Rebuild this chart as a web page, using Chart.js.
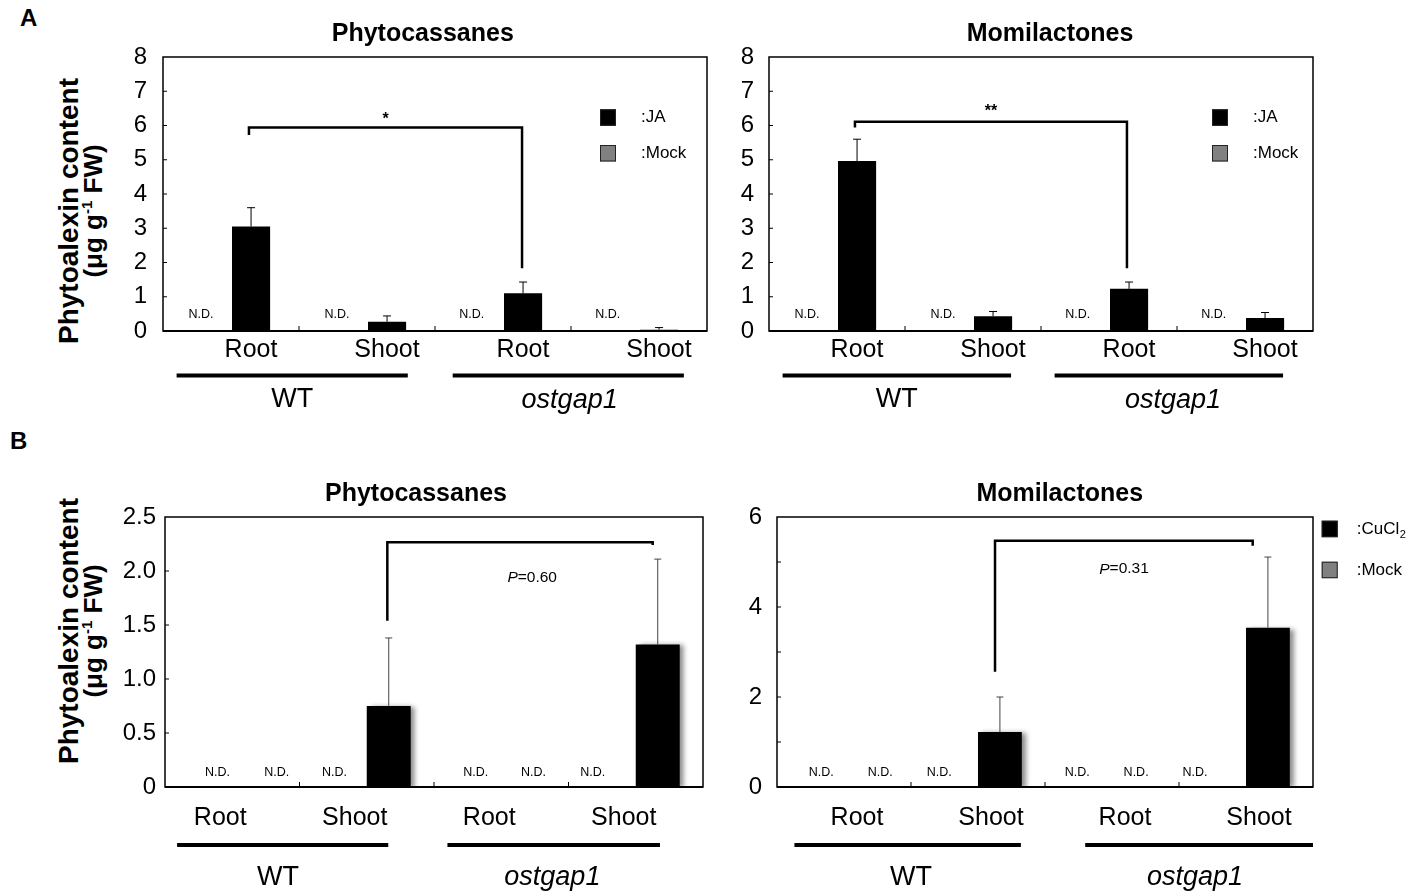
<!DOCTYPE html>
<html>
<head>
<meta charset="utf-8">
<script src="https://cdn.jsdelivr.net/npm/chart.js@4.4.1/dist/chart.umd.min.js"></script>
<style>
body { margin: 0; background: #fff; }
#fig { position: relative; width: 1409px; height: 895px; font-family: 'Liberation Sans', Arial, sans-serif; color: #000; overflow: hidden; }
#fig canvas { position: absolute; }
.letter { position: absolute; font-weight: bold; font-size: 24px; line-height: 24px; }
.ytitle { position: absolute; width: 320px; left: -79px; height: 48px; text-align: center; font-weight: bold; line-height: 24px; transform: rotate(-90deg); white-space: nowrap; }
.ytitle .l1 { font-size: 28px; }
.ytitle .l2 { font-size: 26px; }
.ytitle sup { font-size: 15px; vertical-align: 10px; line-height: 0; }
</style>
</head>
<body>
<div id="fig">
  <div class="letter" style="left:20px; top:6px;">A</div>
  <div class="letter" style="left:10px; top:429px;">B</div>
  <div class="ytitle" style="top:187px;"><div class="l1">Phytoalexin content</div><div class="l2">(μg g<sup>-1</sup> FW)</div></div>
  <div class="ytitle" style="top:607px;"><div class="l1">Phytoalexin content</div><div class="l2">(μg g<sup>-1</sup> FW)</div></div>
  <canvas id="a1" width="620" height="420" style="left:90px; top:0px;"></canvas>
  <canvas id="a2" width="620" height="420" style="left:712px; top:0px;"></canvas>
  <canvas id="b1" width="620" height="455" style="left:90px; top:440px;"></canvas>
  <canvas id="b2" width="697" height="455" style="left:712px; top:440px;"></canvas>
</div>
<script>
// categories
const groups = ['Root', 'Shoot', 'Root', 'Shoot'];

// A: JA treatment, mock not detected (N.D.)
const mockND = [null, null, null, null];
const phytoJA = [3.05, 0.27, 1.10, 0.04];
const phytoJASD = [0.55, 0.17, 0.33, 0.06];
const momiJA = [4.96, 0.43, 1.23, 0.38];
const momiJASD = [0.64, 0.14, 0.20, 0.16];

// B: CuCl2 treatment
const phytoCu = [null, 0.75, null, 1.32];
const phytoCuSD = [null, 0.63, null, 0.79];
const momiCu = [null, 1.22, null, 3.54];
const momiCuSD = [null, 0.78, null, 1.57];

// y ticks
const yTicksA = [0, 1, 2, 3, 4, 5, 6, 7, 8];
const yLabelsA = ['0', '1', '2', '3', '4', '5', '6', '7', '8'];
const yTicksB1 = [0, 0.5, 1.0, 1.5, 2.0, 2.5];
const yLabelsB1 = ['0', '0.5', '1.0', '1.5', '2.0', '2.5'];
const yTicksB2 = [0, 1, 2, 3, 4, 5, 6];
const yLabelsB2 = ['0', '', '2', '', '4', '', '6'];

const FONT = "'Liberation Sans', Arial, sans-serif";

// 标注：误差线、N.D.、括号、图例、分组下划线
const figPlugin = {
    id: 'fig',
    beforeDatasetsDraw(chart, args, o) {
        const ctx = chart.ctx;
        ctx.save();
        if (o.shadow) {
            ctx.shadowColor = 'rgba(0,0,0,0.45)';
            ctx.shadowBlur = 5;
            ctx.shadowOffsetX = 4;
            ctx.shadowOffsetY = 1;
        }
    },
    afterDatasetsDraw(chart, args, o) {
        const ctx = chart.ctx;
        ctx.restore();
        const { left, right, top, bottom } = chart.chartArea;
        const xs = chart.scales.x, ys = chart.scales.y;
        const X = v => xs.getPixelForValue(v);
        const Y = v => ys.getPixelForValue(v);
        ctx.save();
        ctx.fillStyle = '#000';
        ctx.strokeStyle = '#000';

        // error bars (upper only)
        chart.data.datasets.forEach((ds, di) => {
            if (!ds.sd) return;
            chart.getDatasetMeta(di).data.forEach((bar, i) => {
                const v = ds.data[i], sd = ds.sd[i];
                if (v == null || sd == null) return;
                const y0 = Y(v), y1 = Y(v + sd);
                ctx.strokeStyle = o.errColor;
                ctx.lineWidth = 1;
                ctx.beginPath();
                ctx.moveTo(bar.x, y0);
                ctx.lineTo(bar.x, y1);
                ctx.moveTo(bar.x - o.cap, y1);
                ctx.lineTo(bar.x + o.cap, y1);
                ctx.stroke();
            });
        });

        // frame
        ctx.strokeStyle = '#000';
        ctx.lineWidth = 1.5;
        ctx.strokeRect(left, top, right - left, bottom - top);
        ctx.lineWidth = 2;
        ctx.beginPath();
        ctx.moveTo(left, bottom);
        ctx.lineTo(right, bottom);
        ctx.stroke();

        // inward ticks
        ctx.lineWidth = 1;
        ctx.beginPath();
        ys.ticks.forEach(t => {
            const p = Y(t.value);
            if (p > top + 1 && p < bottom - 1) {
                ctx.moveTo(left, p);
                ctx.lineTo(left + 4, p);
            }
        });
        for (let i = 0; i < groups.length - 1; i++) {
            const p = (X(i) + X(i + 1)) / 2;
            ctx.moveTo(p, bottom);
            ctx.lineTo(p, bottom - 5);
        }
        ctx.stroke();

        // N.D.
        ctx.font = '12.5px ' + FONT;
        ctx.textAlign = 'center';
        ctx.textBaseline = 'middle';
        o.nd.forEach(pos => ctx.fillText('N.D.', X(pos), bottom - o.ndLift));

        // title
        ctx.font = 'bold 25px ' + FONT;
        ctx.fillText(o.title, X(o.titleAt), top - o.titleLift);

        // significance bracket
        const b = o.bracket;
        const x1 = X(b.x1), x2 = X(b.x2), yT = Y(b.top);
        ctx.lineWidth = 2.5;
        ctx.beginPath();
        ctx.moveTo(x1, Y(b.leftEnd));
        ctx.lineTo(x1, yT);
        ctx.lineTo(x2, yT);
        ctx.lineTo(x2, Y(b.rightEnd));
        ctx.stroke();
        if (b.p) {
            ctx.font = 'italic 15.5px ' + FONT;
            const w1 = ctx.measureText('P').width;
            ctx.font = '15.5px ' + FONT;
            const w2 = ctx.measureText('=' + b.p).width;
            const sx = X(b.textAt) - (w1 + w2) / 2;
            ctx.textAlign = 'left';
            ctx.font = 'italic 15.5px ' + FONT;
            ctx.fillText('P', sx, Y(b.textY));
            ctx.font = '15.5px ' + FONT;
            ctx.fillText('=' + b.p, sx + w1, Y(b.textY));
        } else {
            ctx.font = 'bold 16px ' + FONT;
            ctx.textAlign = 'center';
            ctx.fillText(b.text, (x1 + x2) / 2, Y(b.textY) + 3);
        }

        // legend
        const lg = o.legend;
        lg.items.forEach((it, k) => {
            const sy = top + lg.y + k * lg.gap;
            ctx.fillStyle = it.fill;
            ctx.fillRect(right + lg.x, sy, 16, 16.5);
            ctx.strokeStyle = '#222';
            ctx.lineWidth = 1;
            ctx.strokeRect(right + lg.x + 0.5, sy + 0.5, 15, 15.5);
            ctx.fillStyle = '#000';
            ctx.font = '17px ' + FONT;
            ctx.textAlign = 'left';
            ctx.fillText(it.text, right + lg.tx, sy + 8.5);
            if (it.sub) {
                const w = ctx.measureText(it.text).width;
                ctx.font = '11px ' + FONT;
                ctx.fillText(it.sub, right + lg.tx + w + 0.5, sy + 14);
            }
        });

        // genotype underlines
        ctx.textAlign = 'center';
        o.groups.forEach(g => {
            ctx.fillRect(X(g.from), bottom + o.lineY - 2, X(g.to) - X(g.from), 4);
            ctx.font = (g.italic ? 'italic ' : '') + '27px ' + FONT;
            ctx.fillText(g.text, X(g.at), bottom + o.textY);
        });
        ctx.restore();
    }
};

function makeChart(id, cfg) {
    return new Chart(document.getElementById(id), {
        type: 'bar',
        data: {
            labels: groups,
            datasets: [
                { label: 'Mock', data: mockND, backgroundColor: '#808080',
                  categoryPercentage: cfg.cat, barPercentage: cfg.bar },
                { label: cfg.treat, data: cfg.values, sd: cfg.sd, backgroundColor: '#000',
                  categoryPercentage: cfg.cat, barPercentage: cfg.bar }
            ]
        },
        options: {
            responsive: false,
            animation: false,
            events: [],
            layout: { padding: cfg.pad },
            plugins: {
                legend: { display: false },
                tooltip: { enabled: false },
                title: { display: false },
                fig: cfg.fig
            },
            scales: {
                x: {
                    grid: { display: false, drawTicks: false },
                    border: { display: false },
                    ticks: {
                        color: '#000',
                        font: { family: FONT, size: 25 },
                        padding: cfg.xpad,
                        labelOffset: cfg.labelOffset,
                        maxRotation: 0,
                        autoSkip: false
                    },
                    afterFit: s => { s.height = 40; }
                },
                y: {
                    min: 0,
                    max: cfg.yticks[cfg.yticks.length - 1],
                    grid: { display: false, drawTicks: false },
                    border: { display: false },
                    afterBuildTicks: s => { s.ticks = cfg.yticks.map(v => ({ value: v })); },
                    ticks: {
                        color: '#000',
                        font: { family: FONT, size: 24 },
                        padding: cfg.ypad,
                        callback: (v, i) => cfg.ylabels[i]
                    },
                    afterFit: s => { s.width = cfg.yw; }
                }
            }
        },
        plugins: [figPlugin]
    });
}

const legendJA = { x: 0, y: 52.3, gap: 35.7, items: [
    { fill: '#000', text: ':JA' }, { fill: '#808080', text: ':Mock' }] };

makeChart('a1', {
    treat: 'JA', values: phytoJA, sd: phytoJASD, yticks: yTicksA, ylabels: yLabelsA,
    cat: 0.59, bar: 0.95, pad: { left: 10, right: 3, top: 57, bottom: 49 }, yw: 63, ypad: 16,
    xpad: 4.5, labelOffset: 20,
    fig: {
        title: 'Phytocassanes', titleAt: 1.41, titleLift: 23.3,
        errColor: '#000', cap: 4, ndLift: 16, nd: [-0.22, 0.78, 1.77, 2.77],
        bracket: { x1: 0.132, x2: 2.14, top: 5.94, leftEnd: 5.72, rightEnd: 1.83, text: '*', textY: 6.26 },
        legend: Object.assign({}, legendJA, { x: -107, tx: -66 }),
        lineY: 44.5, textY: 69,
        groups: [{ from: -0.40, to: 1.30, at: 0.45, text: 'WT' },
                 { from: 1.63, to: 3.33, at: 2.49, text: 'ostgap1', italic: true }]
    }
});

makeChart('a2', {
    treat: 'JA', values: momiJA, sd: momiJASD, yticks: yTicksA, ylabels: yLabelsA,
    cat: 0.59, bar: 0.95, pad: { left: 0, right: 19, top: 57, bottom: 49 }, yw: 57, ypad: 15,
    xpad: 4.5, labelOffset: 20,
    fig: {
        title: 'Momilactones', titleAt: 1.566, titleLift: 23.3,
        errColor: '#000', cap: 4, ndLift: 16, nd: [-0.22, 0.78, 1.77, 2.77],
        bracket: { x1: 0.132, x2: 2.132, top: 6.11, leftEnd: 5.94, rightEnd: 1.83, text: '**', textY: 6.48 },
        legend: Object.assign({}, legendJA, { x: -101, tx: -60 }),
        lineY: 44.5, textY: 69,
        groups: [{ from: -0.40, to: 1.28, at: 0.44, text: 'WT' },
                 { from: 1.60, to: 3.28, at: 2.47, text: 'ostgap1', italic: true }]
    }
});

makeChart('b1', {
    treat: 'CuCl2', values: phytoCu, sd: phytoCuSD, yticks: yTicksB1, ylabels: yLabelsB1,
    cat: 0.654, bar: 1.0, pad: { left: 10, right: 7, top: 77, bottom: 68 }, yw: 65, ypad: 9,
    xpad: 16, labelOffset: -12,
    fig: {
        title: 'Phytocassanes', titleAt: 1.366, titleLift: 23, shadow: true,
        errColor: '#444', cap: 3.5, ndLift: 14.5, nd: [-0.11, 0.33, 0.76, 1.81, 2.24, 2.68],
        bracket: { x1: 1.153, x2: 3.126, top: 2.266, leftEnd: 1.54, rightEnd: 2.24, p: '0.60', textAt: 2.23, textY: 1.935 },
        legend: { x: 0, y: 0, gap: 0, items: [] },
        lineY: 58, textY: 90.5,
        groups: [{ from: -0.41, to: 1.16, at: 0.34, text: 'WT' },
                 { from: 1.60, to: 3.18, at: 2.38, text: 'ostgap1', italic: true }]
    }
});

makeChart('b2', {
    treat: 'CuCl2', values: momiCu, sd: momiCuSD, yticks: yTicksB2, ylabels: yLabelsB2,
    cat: 0.654, bar: 1.0, pad: { left: 0, right: 96, top: 77, bottom: 68 }, yw: 65, ypad: 15,
    xpad: 16, labelOffset: 13,
    fig: {
        title: 'Momilactones', titleAt: 1.61, titleLift: 23, shadow: true,
        errColor: '#444', cap: 3.5, ndLift: 14.5, nd: [-0.17, 0.27, 0.71, 1.74, 2.18, 2.62],
        bracket: { x1: 1.127, x2: 3.05, top: 5.47, leftEnd: 2.56, rightEnd: 5.36, p: '0.31', textAt: 2.09, textY: 4.84 },
        legend: { x: 8.7, tx: 43.7, y: 3.7, gap: 41, items: [
            { fill: '#000', text: ':CuCl', sub: '2' }, { fill: '#808080', text: ':Mock' }] },
        lineY: 58, textY: 90.5,
        groups: [{ from: -0.37, to: 1.32, at: 0.50, text: 'WT' },
                 { from: 1.80, to: 3.50, at: 2.62, text: 'ostgap1', italic: true }]
    }
});
</script>
</body>
</html>
